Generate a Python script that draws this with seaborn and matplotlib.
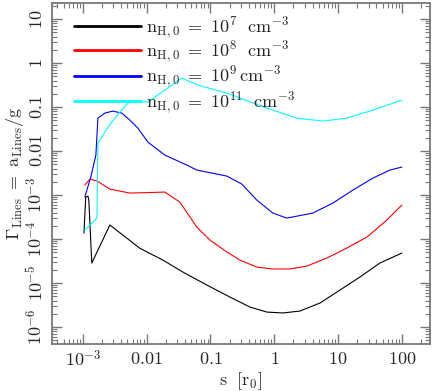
import numpy as np
import pandas as pd
import matplotlib
matplotlib.use("Agg")
import matplotlib.pyplot as plt
import seaborn as sns

# values (log-log plot)
s_1e7 = [1.04e-3, 1.11e-3, 1.2e-3, 1.24e-3, 1.38e-3, 2.65e-3, 7.8e-3, 0.01795, 0.0369,
         0.0879, 0.2014, 0.415, 0.766, 1.36, 2.52, 5.19, 10.7, 22.0, 45.2, 100]
g_1e7 = [1.37e-4, 9.0e-4, 9.5e-4, 7.7e-4, 2.85e-5, 2.09e-4, 6.2e-5, 3.33e-5, 1.78e-5,
         9.0e-6, 4.81e-6, 2.85e-6, 2.19e-6, 2.09e-6, 2.31e-6, 3.51e-6, 6.93e-6, 1.37e-5,
         2.85e-5, 4.81e-5]

s_1e8 = [1.074e-3, 1.29e-3, 1.66e-3, 2.65e-3, 5.45e-3, 0.0193, 0.0331, 0.0612, 0.098,
         0.181, 0.289, 0.533, 0.95, 1.75, 3.24, 6.67, 13.7, 28.3, 58.2, 100]
g_1e8 = [1.69e-3, 2.31e-3, 2.09e-3, 1.37e-3, 1.11e-3, 1.17e-3, 6.93e-4, 1.87e-4, 9.5e-5,
         5.07e-5, 3.33e-5, 2.31e-5, 2.09e-5, 2.09e-5, 2.43e-5, 3.7e-5, 6.24e-5, 1.11e-4,
         2.7e-4, 5.93e-4]

s_1e9 = [1.074e-3, 1.33e-3, 1.6e-3, 1.72e-3, 2.21e-3, 2.95e-3, 4.08e-3, 5.45e-3, 7.28e-3,
         0.01045, 0.0193, 0.0427, 0.0612, 0.181, 0.31, 0.533, 0.95, 1.57, 4.03, 8.28,
         17.1, 35.1, 64.9, 100]
g_1e9 = [9.0e-4, 2.56e-3, 8.1e-3, 0.0562, 0.0731, 0.081, 0.0731, 0.0507, 0.0333,
         0.016, 8.1e-3, 4.81e-3, 3.7e-3, 2.7e-3, 1.78e-3, 7.7e-4, 3.9e-4, 3.0e-4,
         3.9e-4, 6.58e-4, 1.3e-3, 2.43e-3, 3.7e-3, 4.33e-3]

s_1e11 = [1.074e-3, 1.66e-3, 1.72e-3, 2.47e-3, 3.8e-3, 5.45e-3, 0.01045, 0.0356, 0.0635,
          0.181, 0.766, 2.26, 5.78, 13.7, 35.1, 100]
g_1e11 = [1.6e-4, 3.0e-4, 0.0152, 0.0351, 0.0769, 0.137, 0.13, 0.456, 0.316,
          0.208, 0.0949, 0.0562, 0.0481, 0.0562, 0.0855, 0.144]

labels = [r"$\mathrm{n_{H,0}\ =\ 10^{7}\ \ cm^{-3}}$",
          r"$\mathrm{n_{H,0}\ =\ 10^{8}\ \ cm^{-3}}$",
          r"$\mathrm{n_{H,0}\ =\ 10^{9}\, cm^{-3}}$",
          r"$\mathrm{n_{H,0}\ =\ 10^{11}\ \ cm^{-3}}$"]
colors = ["black", "red", "blue", "cyan"]

xticks = [1e-3, 0.01, 0.1, 1, 10, 100]
xticklabels = [r"$10^{-3}$", r"$0.01$", r"$0.1$", r"$1$", r"$10$", r"$100$"]
yticks = [1e-6, 1e-5, 1e-4, 1e-3, 0.01, 0.1, 1, 10]
yticklabels = [r"$10^{-6}$", r"$10^{-5}$", r"$10^{-4}$", r"$10^{-3}$",
               r"$0.01$", r"$0.1$", r"$1$", r"$10$"]

frames = []
for s, g, lab in zip([s_1e7, s_1e8, s_1e9, s_1e11], [g_1e7, g_1e8, g_1e9, g_1e11], labels):
    frames.append(pd.DataFrame({"s": s, "gamma": g, "model": lab}))
data = pd.concat(frames, ignore_index=True)

sns.set_style("ticks")
plt.rcParams["font.family"] = "serif"
plt.rcParams["font.serif"] = ["DejaVu Serif"]
plt.rcParams["mathtext.fontset"] = "cm"

fig = plt.figure(figsize=(4.36, 3.91), dpi=100)
ax = fig.add_axes([0.119, 0.120, 0.867, 0.872])

sns.lineplot(data=data, x="s", y="gamma", hue="model", palette=colors,
             estimator=None, sort=False, linewidth=0.8, ax=ax)

ax.set_xscale("log")
ax.set_yscale("log")
ax.set_xlim(3.27e-4, 275)
ax.set_ylim(4.1e-7, 23.1)

ax.set_xticks(xticks)
ax.set_xticklabels(xticklabels, fontsize=13)
ax.set_yticks(yticks)
ax.set_yticklabels(yticklabels, fontsize=13, rotation=90, va="center")
ax.xaxis.set_minor_locator(matplotlib.ticker.LogLocator(base=10, subs=np.arange(2, 10)))
ax.yaxis.set_minor_locator(matplotlib.ticker.LogLocator(base=10, subs=np.arange(2, 10), numticks=20))
ax.xaxis.set_minor_formatter(matplotlib.ticker.NullFormatter())
ax.yaxis.set_minor_formatter(matplotlib.ticker.NullFormatter())

ax.tick_params(which="both", direction="in", top=True, right=True, color="#777777")
ax.tick_params(which="major", length=7, width=1.0, pad=4)
ax.tick_params(which="minor", length=3.5, width=0.8)
for sp in ax.spines.values():
    sp.set_color("#777777")
    sp.set_linewidth(1.3)

ax.set_xlabel(r"$\mathrm{s\ \ [r_0]}$", fontsize=13, labelpad=0)
ax.set_ylabel(r"$\mathrm{\Gamma_{Lines}\ =\ a_{Lines}/g}$", fontsize=13, labelpad=0)

leg = ax.legend(loc="upper left", bbox_to_anchor=(0.03, 1.0), frameon=False,
                fontsize=13, handlelength=3.7, handletextpad=0.3,
                labelspacing=-0.05, borderaxespad=0.2)
for line in leg.get_lines():
    line.set_linewidth(2.0)

fig.savefig("out.png", dpi=100)
